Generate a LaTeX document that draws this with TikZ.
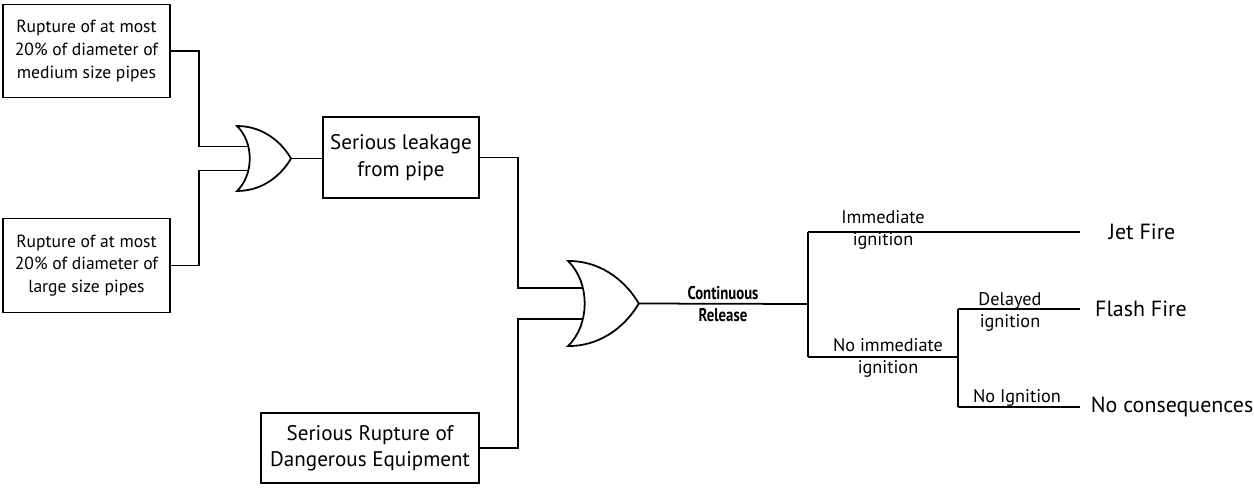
\documentclass[tikz,border=0pt]{standalone}
\usepackage{fontspec}
\setmainfont{PT Sans}
\newfontfamily\condfont[FakeStretch=0.8]{PT Sans}
\tikzset{
  event/.style={draw, line width=1pt, align=center, inner sep=0pt, font=\fontsize{10}{13}\selectfont},
  bigevent/.style={event, font=\fontsize{12}{15}\selectfont},
  branchlabel/.style={align=center, inner sep=0pt, font=\fontsize{10.4}{12.5}\selectfont},
  outcome/.style={inner sep=0pt, font=\fontsize{12.5}{15}\selectfont},
  orgate/.pic={
    \draw[line width=1pt, fill=white] (0,-32.5) .. controls (17,-16) and (17,16) .. (0,32.5)
      .. controls (28,32.5) and (46,14) .. (54,0) .. controls (46,-14) and (28,-32.5) .. (0,-32.5) -- cycle;
    \coordinate (-in1) at (11,-12);
    \coordinate (-in2) at (11,12);
    \coordinate (-out) at (54,0);
  }
}
\begin{document}
\begin{tikzpicture}[x=0.02cm, y=-0.02cm, line width=1pt]
            \useasboundingbox (0,0) rectangle (1254,487);
            \node[event, minimum width=3.34cm, minimum height=1.86cm] (medium) at (86.5,51) {Rupture of at most\\20\% of diameter of\\medium size pipes};
            \node[event, minimum width=3.34cm, minimum height=1.88cm] (large) at (86.5,265.5) {Rupture of at most\\20\% of diameter of\\large size pipes};
            \node[bigevent, minimum width=3.12cm, minimum height=1.62cm] (leak) at (401,157.5) {Serious leakage\\from pipe};
            \node[bigevent, minimum width=4.36cm, minimum height=1.4cm] (equip) at (370,448) {Serious Rupture of\\Dangerous Equipment};
            \pic (g1) at (237,158.5) {orgate};
            \pic[scale=1.31] (g2) at (568,303.5) {orgate};
            \coordinate (bus1) at (199,0);
            \coordinate (bus2) at (518,0);
            \draw (medium.east) -- (medium.east -| bus1) |- (g1-in1);
            \draw (large.east) -- (large.east -| bus1) |- (g1-in2);
            \draw (g1-out) -- (g1-out -| leak.west);
            \draw (leak.east) -- (leak.east -| bus2) |- (g2-in1);
            \draw (equip.east) -- (equip.east -| bus2) |- (g2-in2);
            \coordinate (b1) at (808,304);
            \coordinate (imm) at (808,232);
            \coordinate (noimm) at (808,357);
            \coordinate (b2) at (958,357);
            \coordinate (del) at (958,309);
            \coordinate (noign) at (958,407);
            \coordinate (e1) at (1080,232);
            \coordinate (e2) at (1080,309);
            \coordinate (e3) at (1080,407);
            \draw (g2-out) -- (b1);
            \node[align=center, inner sep=0pt, font=\condfont\bfseries\fontsize{10.5}{12.5}\selectfont] (release) at (723,304) {Continuous\\Release};
            \draw (imm) -- (noimm);
            \draw (imm) -- (e1);
            \draw (noimm) -- (b2);
            \draw (del) -- (noign);
            \draw (del) -- (e2);
            \draw (noign) -- (e3);
            \node[branchlabel] (immlabel) at (883,230) {Immediate\\ignition};
            \node[branchlabel] (noimmlabel) at (888,358) {No immediate\\ignition};
            \node[branchlabel] (dellabel) at (1010,311.5) {Delayed\\ignition};
            \node[branchlabel] (noignlabel) at (1017,398) {No Ignition};
            \node[outcome] (jet) at (1142,232) {Jet Fire};
            \node[outcome] (flash) at (1141,309) {Flash Fire};
            \node[outcome, anchor=west] (nocons) at (1090,407) {No consequences};
        \end{tikzpicture}
\end{document}
